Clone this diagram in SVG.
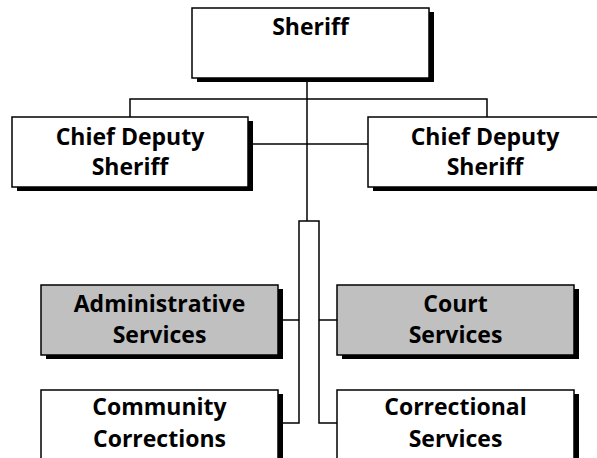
<svg xmlns="http://www.w3.org/2000/svg" width="597" height="458" viewBox="0 0 597 458">
<style>
.shadow{fill:#000}
.box{fill:#fff;stroke:#000;stroke-width:1.5}
.gray{fill:#c0c0c0}
.lbl{font-family:"Open Sans","Lato",sans-serif;font-weight:bold;font-size:23px;fill:#000;text-anchor:middle}
.conn{fill:none;stroke:#000;stroke-width:1.5}
</style>
<rect width="597" height="458" fill="#fff"/>
<g id="connectors">
<line class="conn" x1="307" y1="82" x2="307" y2="221"/>
<polyline class="conn" points="130,117 130,99 487,99 487,117"/>
<line class="conn" x1="250" y1="144" x2="368" y2="144"/>
<polyline class="conn" points="281,423 299,423 299,221 319,221 319,423 337,423"/>
<line class="conn" x1="281" y1="320" x2="299" y2="320"/>
<line class="conn" x1="319" y1="320" x2="337" y2="320"/>
</g>
<g id="sheriff">
<rect class="shadow" x="197" y="12" width="237" height="70"/>
<rect class="box" x="192" y="8" width="237" height="70"/>
<text class="lbl" x="310.5" y="35">Sheriff</text>
</g>
<g id="chief-deputy-left">
<rect class="shadow" x="17" y="121" width="236" height="70"/>
<rect class="box" x="12" y="117" width="236" height="70"/>
<text class="lbl" x="130" y="145">Chief Deputy</text>
<text class="lbl" x="130" y="175">Sheriff</text>
</g>
<g id="chief-deputy-right">
<rect class="shadow" x="373" y="121" width="236" height="70"/>
<rect class="box" x="368" y="117" width="236" height="70"/>
<text class="lbl" x="485" y="145">Chief Deputy</text>
<text class="lbl" x="485" y="175">Sheriff</text>
</g>
<g id="administrative-services">
<rect class="shadow" x="46" y="289" width="237" height="70"/>
<rect class="box gray" x="41" y="285" width="237" height="70"/>
<text class="lbl" x="159.5" y="312">Administrative</text>
<text class="lbl" x="159.5" y="343">Services</text>
</g>
<g id="court-services">
<rect class="shadow" x="342" y="289" width="237" height="70"/>
<rect class="box gray" x="337" y="285" width="237" height="70"/>
<text class="lbl" x="455.5" y="312">Court</text>
<text class="lbl" x="455.5" y="343">Services</text>
</g>
<g id="community-corrections">
<rect class="shadow" x="46" y="394" width="237" height="70"/>
<rect class="box" x="41" y="390" width="237" height="70"/>
<text class="lbl" x="159.5" y="415">Community</text>
<text class="lbl" x="159.5" y="447">Corrections</text>
</g>
<g id="correctional-services">
<rect class="shadow" x="342" y="394" width="237" height="70"/>
<rect class="box" x="337" y="390" width="237" height="70"/>
<text class="lbl" x="455.5" y="415">Correctional</text>
<text class="lbl" x="455.5" y="447">Services</text>
</g>
</svg>
